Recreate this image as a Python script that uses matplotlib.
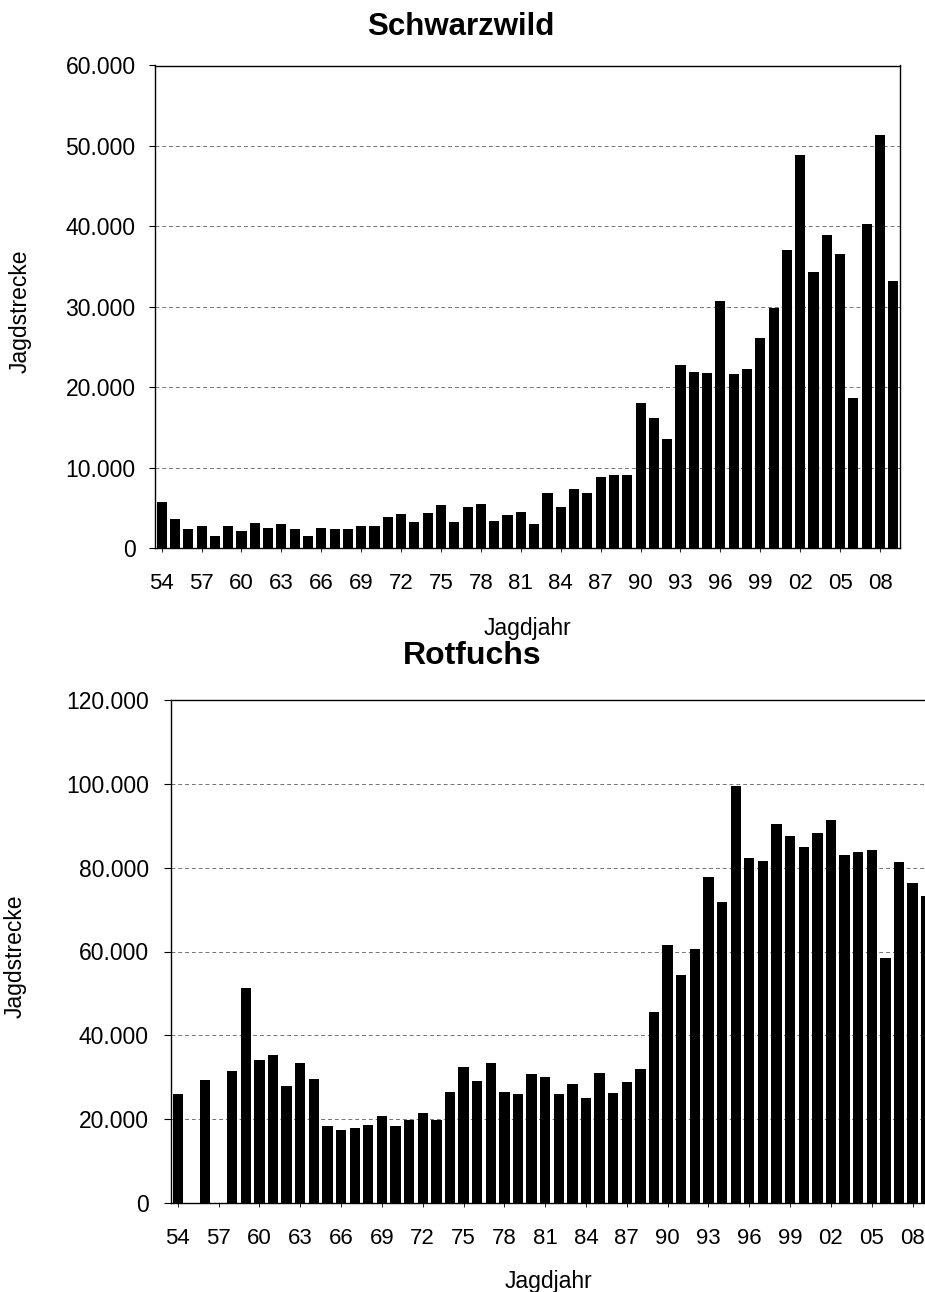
import numpy as np
import matplotlib
matplotlib.use("Agg")
import matplotlib.pyplot as plt
from matplotlib.ticker import FuncFormatter, MultipleLocator

plt.rcParams['font.family'] = ['Liberation Sans', 'DejaVu Sans']

years = np.arange(1954, 2010)

schwarzwild = [5700, 3600, 2350, 2700, 1450, 2750, 2150, 3100, 2500, 3000,
               2400, 1450, 2500, 2400, 2400, 2750, 2700, 3850, 4250, 3200,
               4300, 5350, 3200, 5050, 5450, 3300, 4100, 4500, 3000, 6800,
               5100, 7300, 6800, 8800, 9100, 9100, 18000, 16200, 13600, 22800,
               21900, 21700, 30700, 21600, 22200, 26100, 29800, 37100, 48900, 34300,
               38900, 36500, 18600, 40300, 51300, 33200]

rotfuchs = [26000, 0, 29300, 0, 31600, 51300, 34200, 35400, 28000, 33400,
            29700, 18300, 17500, 17800, 18500, 20800, 18300, 19800, 21400, 19800,
            26500, 32400, 29000, 33400, 26500, 26000, 30800, 30000, 26000, 28500,
            25000, 31000, 26300, 28800, 32000, 45500, 61500, 54500, 60700, 77700,
            71900, 99500, 82300, 81600, 90400, 87500, 85000, 88300, 91300, 83000,
            83700, 84300, 58400, 81400, 76300, 73300]

W, H = 925, 1292
fig = plt.figure(figsize=(W / 100, H / 100), dpi=100)


def px_axes(left, right, top, bottom):
    return fig.add_axes([left / W, 1 - bottom / H, (right - left) / W, (bottom - top) / H])


def thousands(v, pos):
    return f"{int(v):,}".replace(",", ".")


def style(ax, values, ymax, ystep, ypad, ylen):
    ax.bar(years, values, width=0.76, color='black', zorder=3)
    ax.set_xlim(1953.5, 2009.5)
    ax.set_ylim(0, ymax)
    ax.yaxis.set_major_locator(MultipleLocator(ystep))
    ax.yaxis.set_major_formatter(FuncFormatter(thousands))
    ticks = years[::3]
    ax.set_xticks(ticks)
    ax.set_xticklabels([f"{y % 100:02d}" for y in ticks])
    ax.grid(axis='y', color='0.45', linestyle=(0, (4, 3)), linewidth=0.7, zorder=1)
    ax.tick_params(axis='x', length=3, width=0.6, pad=15, labelsize=16)
    ax.tick_params(axis='y', length=ylen, width=0.8, pad=ypad, labelsize=16.5)
    for s in ax.spines.values():
        s.set_linewidth(1.0)


# Schwarzwild
ax1 = px_axes(155, 900, 65.5, 548)
style(ax1, schwarzwild, 60000, 10000, 10, 4)
ax1.text(0.41, 1.08, "Schwarzwild", transform=ax1.transAxes, ha='center', va='center',
         fontsize=22.5, fontweight='bold')
ax1.set_xlabel("Jagdjahr", fontsize=16.5)
ax1.xaxis.set_label_coords(0.5, -0.143)
ax1.set_ylabel("Jagdstrecke", fontsize=16.5)
ax1.yaxis.set_label_coords(-0.165, 0.49)

# Rotfuchs
ax2 = px_axes(171, 933, 700, 1203)
style(ax2, rotfuchs, 120000, 20000, 11, 5)
ax2.text(0.395, 1.087, "Rotfuchs", transform=ax2.transAxes, ha='center', va='center',
         fontsize=23, fontweight='bold')
ax2.set_xlabel("Jagdjahr", fontsize=16.5)
ax2.xaxis.set_label_coords(0.495, -0.133)
ax2.set_ylabel("Jagdstrecke", fontsize=16.5)
ax2.yaxis.set_label_coords(-0.19, 0.49)

fig.savefig("out.png", dpi=100)
